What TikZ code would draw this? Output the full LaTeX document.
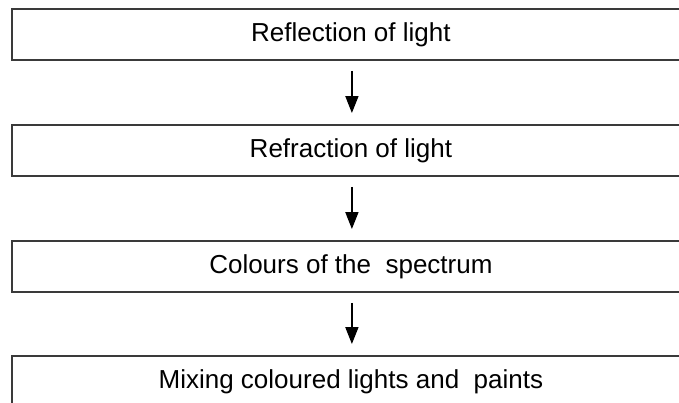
\documentclass[tikz,border=0pt]{standalone}
\usepackage{fontspec}
\setmainfont{Liberation Sans}
\usetikzlibrary{arrows.meta,calc}
\definecolor{boxgray}{HTML}{3A3A3A}
\begin{document}
\begin{tikzpicture}[x=1pt,y=-1pt,
  box/.style={draw=boxgray, line width=1.8pt, minimum width=678pt, minimum height=51pt,
    inner sep=0pt, anchor=north west, text height=19pt, text depth=5pt,
    font=\fontsize{26}{30}\selectfont},
  arr/.style={line width=1.8pt, -{Triangle[width=13pt,length=17pt]}}]
\useasboundingbox (0,0) rectangle (679,402);
\clip (0,0) rectangle (679,402);
\node[box] (b1) at (11,8) {Reflection of light};
\node[box] (b2) at (11,124) {Refraction of light};
\node[box] (b3) at (11,240) {Colours of the\ \ spectrum};
\node[box] (b4) at (11,355) {Mixing coloured lights and\ \ paints};
\draw[arr] ($(b1.south)+(1,10)$) -- ($(b2.north)+(1,-11)$);
\draw[arr] ($(b2.south)+(1,10)$) -- ($(b3.north)+(1,-11)$);
\draw[arr] ($(b3.south)+(1,10)$) -- ($(b4.north)+(1,-11)$);
\end{tikzpicture}
\end{document}
